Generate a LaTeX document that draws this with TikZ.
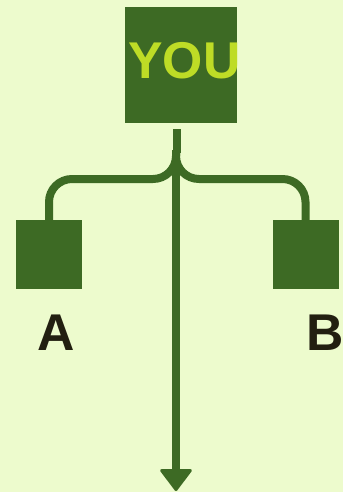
\documentclass[tikz,border=0pt]{standalone}
\usepackage{fontspec}
\setmainfont{Liberation Sans}
\usetikzlibrary{arrows.meta}
\definecolor{bgc}{HTML}{EDFBCD}
\definecolor{dkgreen}{HTML}{3D6A24}
\definecolor{ylw}{HTML}{BEDC26}
\definecolor{lblc}{HTML}{221F10}
\begin{document}
\begin{tikzpicture}[x=1pt,y=-1pt,
  box/.style={fill=dkgreen, inner sep=0pt, outer sep=0pt},
  conn/.style={draw=dkgreen, line width=8pt},
  lbl/.style={font=\bfseries\fontsize{51.7}{60}\selectfont, inner sep=0pt, anchor=base}]
\fill[bgc] (0,0) rectangle (343,492);
\useasboundingbox (0,0) rectangle (343,492);
\node[box, minimum width=112pt, minimum height=116pt] (you) at (181,65) {};
\node[lbl, text=ylw] (youtxt) at (184.5,79) {YOU};
\node[box, minimum width=66pt, minimum height=69pt] (a) at (49,254.5) {};
\node[box, minimum width=66pt, minimum height=69pt] (b) at (305.5,254.5) {};
\node[lbl, text=lblc] (alabel) at (56.3,350) {A};
\node[lbl, text=lblc] (blabel) at (325.3,350) {B};
\coordinate (split) at (176,150);
\coordinate (tip) at (176,491);
\draw[conn] (you.south) ++(-4,6) -- ++(0,24);
\draw[conn, rounded corners=23pt] (split) -- ++(0,29) -| (a.north);
\draw[conn, rounded corners=23pt] (split) -- ++(0,29) -| (b.north);
\draw[conn, -{Triangle[width=34pt,length=23pt,round,line width=3pt]}] (split) -- (tip);
\end{tikzpicture}
\end{document}
